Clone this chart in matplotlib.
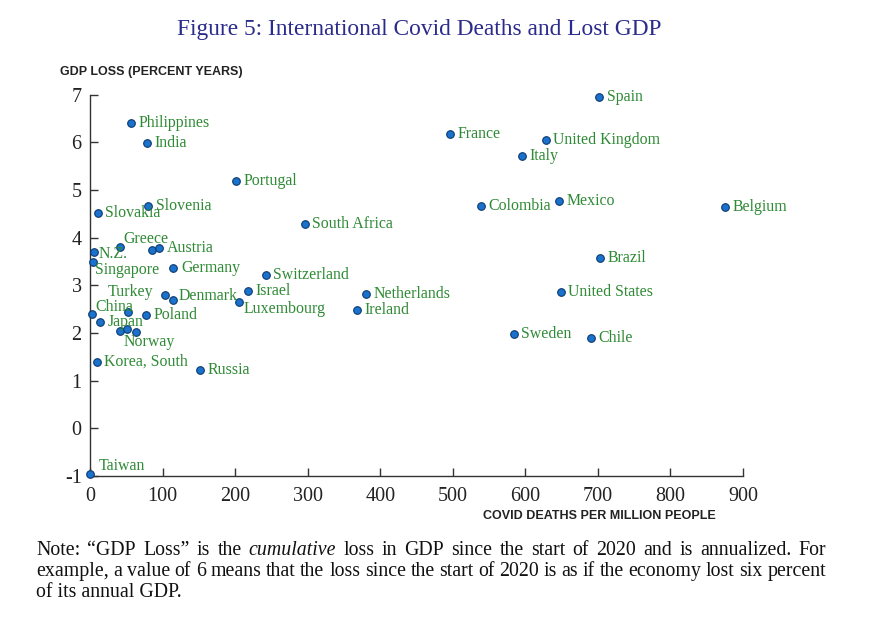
import matplotlib
matplotlib.use("Agg")
import matplotlib.pyplot as plt

# data: covid deaths per million vs GDP loss (percent years)
countries = ["Spain", "Philippines", "India", "France", "United Kingdom", "Italy",
             "Portugal", "Slovakia", "Slovenia", "Colombia", "Mexico", "Belgium",
             "South Africa", "Greece", "", "Austria", "N.Z.", "Singapore", "Germany",
             "Switzerland", "Turkey", "Denmark", "Israel", "Luxembourg", "China", "",
             "Poland", "Japan", "Norway", "", "", "Korea, South", "Russia",
             "Netherlands", "Ireland", "Brazil", "United States", "Sweden", "Chile",
             "Taiwan"]
deaths = [702, 56, 78, 496, 628, 596,
          201, 11, 80, 539, 647, 875,
          296, 42, 85, 95, 5.5, 4.6, 115,
          242, 103, 115, 218, 205, 3, 52,
          77, 14, 42, 51.5, 63, 9, 152,
          381, 368, 703, 649, 584, 691,
          0]
gdp_loss = [6.95, 6.40, 5.98, 6.17, 6.05, 5.71,
            5.19, 4.52, 4.66, 4.67, 4.77, 4.64,
            4.28, 3.81, 3.74, 3.79, 3.69, 3.48, 3.36,
            3.21, 2.79, 2.69, 2.87, 2.64, 2.40, 2.45,
            2.38, 2.24, 2.05, 2.09, 2.02, 1.40, 1.23,
            2.82, 2.48, 3.57, 2.86, 1.97, 1.89,
            -0.96]

xticks = [0, 100, 200, 300, 400, 500, 600, 700, 800, 900]
yticks = [-1, 0, 1, 2, 3, 4, 5, 6, 7]

# label placement, in pixels (right, down) from the marker
default_off = (7.5, 0, "left")
label_off = {
    "Greece": (3, -8, "left"),
    "N.Z.": (5, 2, "left"),
    "Singapore": (2, 8, "left"),
    "Turkey": (-11, -3, "right"),
    "Denmark": (5, -4, "left"),
    "Luxembourg": (5, 7, "left"),
    "China": (3, -7, "left"),
    "Japan": (8, 0, "left"),
    "Norway": (3, 11, "left"),
    "Taiwan": (9, -8, "left"),
}

serif = "Liberation Serif"
sans = "Liberation Sans"
green = "#2f8a35"
blue = "#1a72cc"

W, H = 887, 629
fig = plt.figure(figsize=(W / 100, H / 100), dpi=100)
ax = fig.add_axes([90 / W, 1 - 476 / H, (743 - 90) / W, (476 - 94.6) / H])

ax.scatter(deaths, gdp_loss, s=30, color=blue, edgecolor="#0b3a6e",
           linewidth=0.8, zorder=3, clip_on=False)

for name, x, y in zip(countries, deaths, gdp_loss):
    if not name:
        continue
    dx, dy, ha = label_off.get(name, default_off)
    ax.annotate(name, (x, y), xytext=(dx * 0.72, -dy * 0.72),
                textcoords="offset points", ha=ha, va="center",
                fontsize=11.4, color=green, family=serif,
                annotation_clip=False)

ax.set_xlim(0, 900)
ax.set_ylim(-1, 7)
ax.set_xticks(xticks)
ax.set_yticks(yticks)
ax.set_xticklabels([str(v) for v in xticks], family=serif, fontsize=14.5, color="#222222")
ax.set_yticklabels([str(v) for v in yticks], family=serif, fontsize=14.5, color="#222222")
ax.tick_params(direction="in", length=6, width=1, color="#333333")
ax.tick_params(axis="x", pad=8)
ax.tick_params(axis="y", pad=6)
for side in ["top", "right"]:
    ax.spines[side].set_visible(False)
for side in ["left", "bottom"]:
    ax.spines[side].set_color("#333333")
    ax.spines[side].set_linewidth(1)

fig.text(60 / W, 1 - 72 / H, "GDP LOSS (PERCENT YEARS)", family=sans,
         fontweight="bold", fontsize=9, color="#222222", va="center", ha="left")
fig.text(716 / W, 1 - 516 / H, "COVID DEATHS PER MILLION PEOPLE", family=sans,
         fontweight="bold", fontsize=9, color="#222222", va="center", ha="right")

fig.text(419 / W, 1 - 30 / H, "Figure 5: International Covid Deaths and Lost GDP",
         family=serif, fontsize=16.8, color="#2b2b8c", ha="center", va="center")

# justified note underneath
note_lines = [
    [("Note:", "normal"), ("\u201cGDP", "normal"), ("Loss\u201d", "normal"), ("is", "normal"),
     ("the", "normal"), ("cumulative", "italic"), ("loss", "normal"), ("in", "normal"),
     ("GDP", "normal"), ("since", "normal"), ("the", "normal"), ("start", "normal"),
     ("of", "normal"), ("2020", "normal"), ("and", "normal"), ("is", "normal"),
     ("annualized.", "normal"), ("For", "normal")],
    [(w, "normal") for w in "example, a value of 6 means that the loss since the start "
     "of 2020 is as if the economy lost six percent".split()],
]
renderer = fig.canvas.get_renderer()
left, right = 36, 826
baselines = [555, 576, 597]
note_size = 14.3
for words, py in zip(note_lines, baselines):
    texts = [fig.text(0, 1 - py / H, w, family=serif, style=st, fontsize=note_size,
                      color="#111111", va="baseline", ha="left") for w, st in words]
    widths = [t.get_window_extent(renderer).width for t in texts]
    gap = (right - left - sum(widths)) / (len(texts) - 1)
    x = left
    for t, w in zip(texts, widths):
        t.set_x(x / W)
        x += w + gap
fig.text(left / W, 1 - baselines[2] / H, "of its annual GDP.", family=serif,
         fontsize=note_size, color="#111111", va="baseline", ha="left")

fig.savefig("out.png", dpi=100)
